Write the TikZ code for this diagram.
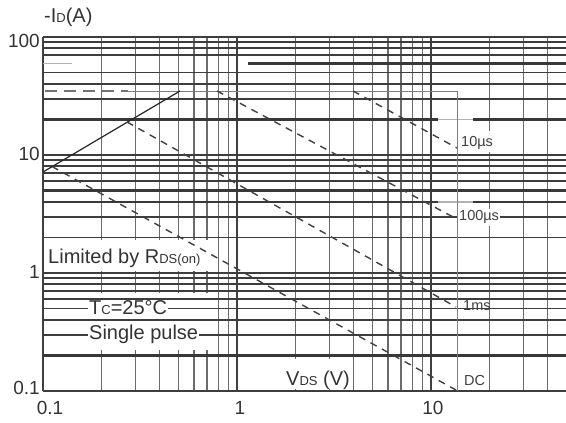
\documentclass[tikz,border=0pt]{standalone}
\usepackage{fontspec}
\setmainfont{Liberation Sans}
\newcommand\smtxt[1]{{\fontsize{13}{13}\selectfont #1}}
\tikzset{
  hgrid/.style={line width=1.9pt, draw=black!76},
  hthick/.style={line width=2.7pt, draw=black!78},
  hfaint/.style={line width=1.4pt, draw=black!30},
  vgrid/.style={line width=1.2pt, draw=black!58},
  vmajor/.style={line width=1.5pt, draw=black!75},
  curve/.style={line width=1.2pt, draw=black!85},
  thinlim/.style={line width=0.9pt, draw=black!50},
  dcurve/.style={line width=1.4pt, draw=black!75, dash pattern=on 7pt off 6pt},
  ldash/.style={line width=1.5pt, draw=black!55, dash pattern=on 12pt off 7pt},
  lbl/.style={font=\fontsize{20}{20}\selectfont, inner sep=1pt, anchor=west, text=black!80},
  wlbl/.style={lbl, fill=white},
  slbl/.style={font=\fontsize{14.5}{14.5}\selectfont, inner sep=1pt, anchor=west, text=black!75},
  wslbl/.style={slbl, fill=white},
  tick/.style={font=\fontsize{19}{19}\selectfont, inner sep=0pt, text=black!80},
  wbox/.style={fill=white, draw=none}
}
\begin{document}
\begin{tikzpicture}[x=1pt,y=-1pt]
\useasboundingbox (0,0) rectangle (566,423);
\clip (0,0) rectangle (566,423);
% vertical grid
\foreach \xx in {101.4,135.6,159.8,178.6,194,206.9,218.2,228.1,
                 295.4,329.6,353.8,372.6,388,400.9,412.2,422.1,
                 489.4,523.6,547.8}
  \draw[vgrid] (\xx,37) -- (\xx,391);
\foreach \xx in {43,237,431}
  \draw[vmajor] (\xx,37) -- (\xx,391);
% white blocks behind labels
\fill[wbox] (45,240) rectangle (214,271);
\fill[wbox] (86,293) rectangle (216,350);
\fill[wbox] (284,359) rectangle (352,389);
\fill[wbox] (461,360) rectangle (489,389);
\fill[wbox] (459,131) rectangle (496,152);
\fill[wbox] (456,209) rectangle (503,226);
% horizontal grid
\foreach \yy in {37,42.4,48.4,55.3,72.5,84.0,98.7,155,
                 160.4,166.4,173.3,181.2,216.7,237.5,273,
                 278.4,284.4,291.3,299.2,308.5,320.0,334.7,391}
  \draw[hgrid] (43,\yy) -- (566,\yy);
\draw[hthick] (43,190.5) -- (566,190.5);
\draw[hthick] (43,355.5) -- (566,355.5);
% 60 A line (partly missing)
\draw[hfaint] (43,63.2) -- (72,63.2);
\draw[hthick] (248,63.2) -- (566,63.2);
% 20 A line with faint gap
\draw[hthick] (43,119.5) -- (438,119.5);
\draw[hfaint] (438,119.5) -- (473,119.5);
\draw[hthick] (473,119.5) -- (566,119.5);
% 4 A line with faint gap
\draw[hthick] (43,202) -- (438,202);
\draw[hfaint] (438,202) -- (473,202);
\draw[hthick] (473,202) -- (566,202);
% curve anchor points
\coordinate (rdsA) at (43,172);
\coordinate (rdsB) at (180,91);
\coordinate (limL) at (45,91);
\coordinate (limM) at (128,91);
\coordinate (limR) at (457,91);
\coordinate (limB) at (457,391);
\coordinate (tenA) at (353,91);
\coordinate (tenB) at (457,148);
\coordinate (hunA) at (217,91);
\coordinate (hunB) at (455,218);
\coordinate (msA) at (127,122);
\coordinate (msB) at (456,307);
\coordinate (dcA) at (52,166.5);
\coordinate (dcB) at (456,390);
% curves
\draw[thinlim] (limM) -- (limR) -- (limB);
\draw[ldash] (limL) -- (limM);
\draw[curve] (rdsA) -- (rdsB);
\draw[dcurve] (tenA) -- (tenB);
\draw[dcurve] (hunA) -- (hunB);
\draw[dcurve] (msA) -- (msB);
\draw[dcurve] (dcA) -- (dcB);
% axis labels
\node[lbl, inner sep=0pt] (ylab) at (44,17) {-I\smtxt{D}(A)};
\node[tick, anchor=east] (y100) at (40,41) {100};
\node[tick, anchor=east] (y10) at (40,154) {10};
\node[tick, anchor=east] (y1) at (40,272) {1};
\node[tick, anchor=east] (y01) at (40,388) {0.1};
\node[tick] (x01) at (50,408) {0.1};
\node[tick] (x1) at (240,408) {1};
\node[tick] (x10) at (433,408) {10};
\node[lbl] (vds) at (285,380) {V\smtxt{DS} (V)};
% annotations
\node[lbl] (rds) at (47,258) {Limited by R\smtxt{DS(on)}};
\node[wlbl] (tc) at (88,308) {T\smtxt{C}=25°C};
\node[wlbl] (sp) at (88,334) {Single pulse};
\node[wslbl] (l10) at (460,143) {10µs};
\node[wslbl] (l100) at (458,217) {100µs};
\node[slbl] (l1ms) at (462,306) {1ms};
\node[wslbl] (ldc) at (463,381) {DC};
\end{tikzpicture}
\end{document}
